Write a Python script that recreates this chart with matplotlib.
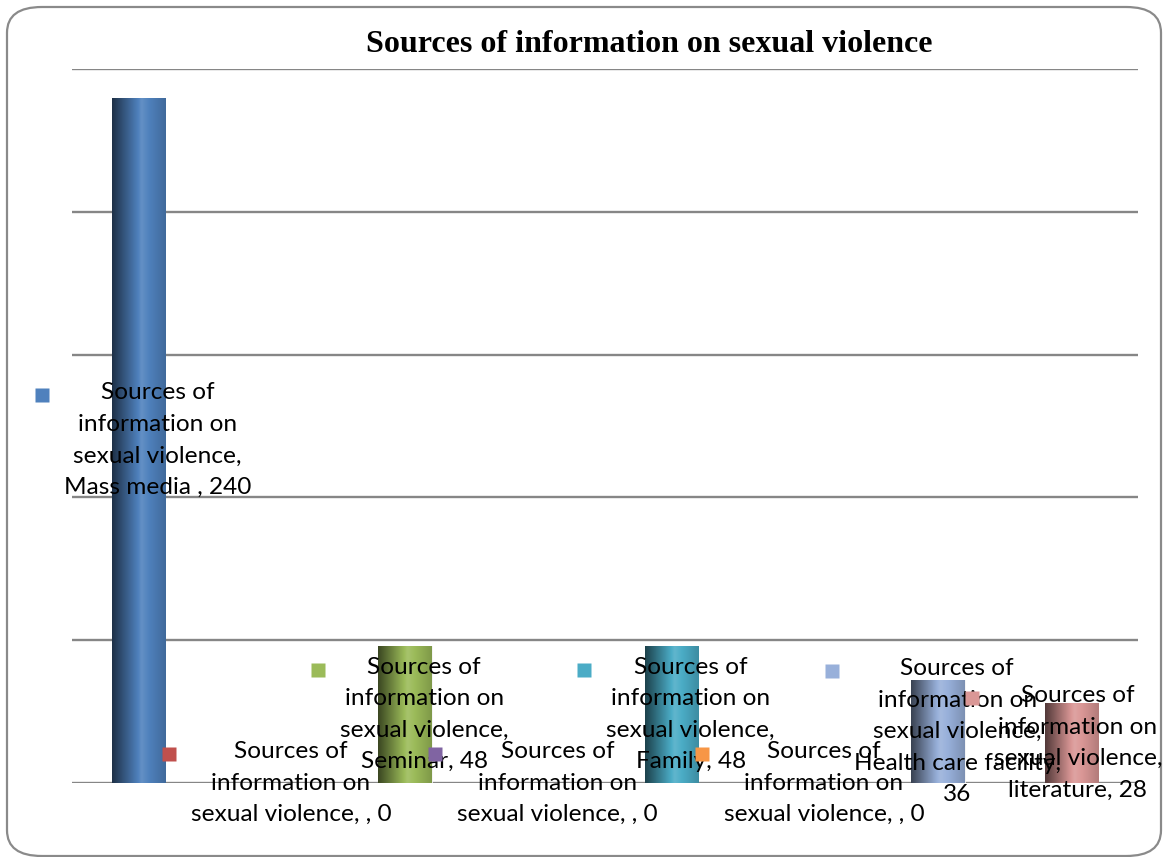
import numpy as np
import matplotlib
matplotlib.use("Agg")
import matplotlib.pyplot as plt
from matplotlib.colors import to_rgb
from matplotlib.patches import FancyBboxPatch

# chart data
categories = ["Mass media ", "", "Seminar", "", "Family", "", "Health care facility", "literature"]
counts = [240, 0, 48, 0, 48, 0, 36, 28]
series_name = "Sources of information on sexual violence"
colors = ["#4F81BD", "#C0504D", "#9BBB59", "#8064A2", "#4BACC6", "#F79646", "#98B0DA", "#DA9796"]

DPI = 100
fig = plt.figure(figsize=(11.63, 8.57), dpi=DPI)
W, H = 1163, 857

# rounded chart frame
frame = FancyBboxPatch((7 / W, 1 / H), 1154 / W, (H - 8) / H,
                       boxstyle="round,pad=0,rounding_size=0.03",
                       transform=fig.transFigure, facecolor="white",
                       edgecolor="#8a8a8a", linewidth=1.6, zorder=-5)
fig.patches.append(frame)

ax = fig.add_axes([72 / W, 1 - 783 / H, (1138 - 72) / W, (783 - 69) / H])
ax.set_facecolor("none")
ax.set_xlim(-0.5, len(counts) - 0.5)
ax.set_ylim(0, 250)
ax.set_yticks(np.arange(0, 251, 50))
ax.set_xticks([])
ax.tick_params(left=False, labelleft=False)
for s in ax.spines.values():
    s.set_visible(False)
ax.grid(axis="y", color="#868686", linewidth=1.7)
ax.set_axisbelow(True)

fig.text(0.5585, 1 - 44 / H, series_name, ha="center", va="center",
         fontsize=23, fontweight="bold", family="Liberation Serif")


def shade(c, t):
    # cylinder look: dark left edge, highlight a bit right of centre
    r = np.array(to_rgb(c))
    k = np.interp(t, [0, 0.55, 1.0], [0.38, 1.08, 0.82])
    out = np.where(k[:, None] <= 1, r * k[:, None], r + (1 - r) * (k[:, None] - 1) * 1.5)
    return np.clip(out, 0, 1)


width = 0.4
bars = ax.bar(range(len(counts)), counts, width=width, color="none",
              edgecolor="#f2f2f2", linewidth=0.6, zorder=2)
t = np.linspace(0, 1, 64)
for i, (b, c) in enumerate(zip(bars, colors)):
    if counts[i] == 0:
        continue
    img = shade(c, t)[None, :, :]
    im = ax.imshow(img, extent=(i - width / 2, i + width / 2, 0, counts[i]),
                   aspect="auto", zorder=2, interpolation="bilinear")
    im.set_clip_path(b)
ax.set_xlim(-0.5, len(counts) - 0.5)
ax.set_ylim(0, 250)

# data labels: series name, category and value, with a legend key
labels = []
for i, (cat, v) in enumerate(zip(categories, counts)):
    tail = f"{cat}, {v}"
    if not cat:
        last = f"sexual violence, {tail}"
    elif len(tail) > 18:
        last = "sexual violence,\n" + tail.replace(", ", ",\n")
    else:
        last = "sexual violence,\n" + tail
    txt = "Sources of\ninformation on\n" + last
    a = ax.annotate(txt, xy=(i, v / 2), xytext=(13.7, 0), textcoords="offset points",
                    ha="center", va="center", multialignment="center",
                    fontsize=17.6, family=["Lato", "DejaVu Sans"], color="black",
                    linespacing=1.62, zorder=5, annotation_clip=False)
    labels.append(a)

fig.canvas.draw()
r = fig.canvas.get_renderer()
inv = ax.transData.inverted()
for i, a in enumerate(labels):
    bb = a.get_window_extent(r)
    if bb.x1 > W - 1:
        shift = (bb.x1 - (W - 1)) * 72 / DPI
        a.xyann = (a.xyann[0] - shift, 0)
        bb = a.get_window_extent(r)
    n = a.get_text().count("\n") + 1
    lh = bb.height / n
    mx, my = inv.transform((bb.x0 - 22, bb.y1 - lh * 0.45))
    ax.plot(mx, my, marker="s", ms=9.4, color=colors[i], mec="none",
            clip_on=False, zorder=5)

fig.savefig("out.png", dpi=DPI)
